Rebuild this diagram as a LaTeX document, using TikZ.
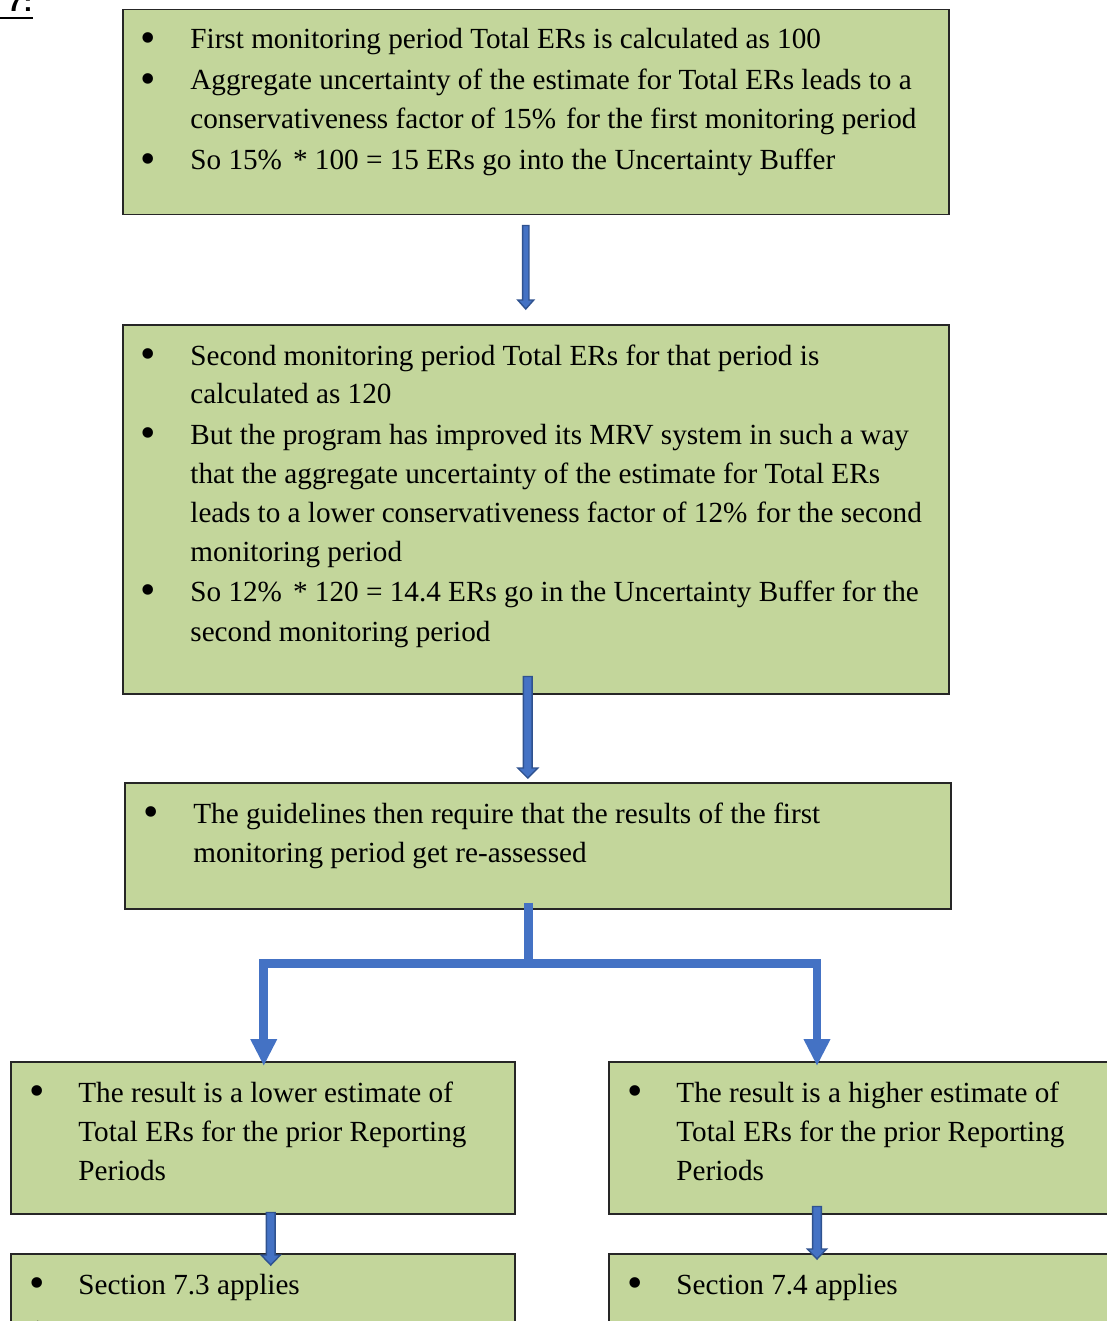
\documentclass[tikz,border=0pt]{standalone}
\usepackage{fontspec}
\setmainfont{Liberation Serif}
\newfontfamily\hdfont{Liberation Sans}
\usetikzlibrary{calc,arrows.meta}
\definecolor{boxgreen}{HTML}{C3D69B}
\definecolor{arrowfill}{HTML}{4472C4}
\definecolor{arrowline}{HTML}{2F528F}
\newcommand{\bkarrow}[5]{%
  \draw[barrow] let \p1=(#1), \p2=(#2) in
    (\x1-#3,\y1) -- (\x1+#3,\y1) -- (\x1+#3,\y2+#5) -- (\x1+#4,\y2+#5)
    -- (\x1,\y2) -- (\x1-#4,\y2+#5) -- (\x1-#3,\y2+#5) -- cycle;}
\begin{document}
\begin{tikzpicture}[x=0.5pt,y=-0.5pt,
  gbox/.style={draw=black!85, line width=0.75pt, fill=boxgreen, rectangle, anchor=north west, inner sep=0pt},
  txt/.style={anchor=base west, inner sep=0pt, yshift=-0.5pt, font=\fontsize{14.6}{16}\selectfont},
  bul/.style={anchor=base, inner sep=0pt, yshift=-2.1pt, font=\fontsize{22}{24}\selectfont},
  barrow/.style={draw=arrowline, fill=arrowfill, line width=0.7pt, line join=miter},
  tree/.style={draw=arrowfill, line width=4.3pt, line join=miter, -{Triangle[width=12.5pt,length=13.5pt]}}]
\useasboundingbox (0,0) rectangle (1107,1321);
\clip (0,0) rectangle (1107,1321);

% heading fragment
\node[anchor=base east, inner sep=0pt, font=\hdfont\bfseries\fontsize{14}{16}\selectfont] (hd) at (33,12) {7:};
\draw[line width=1.3pt] (0,18) -- (33,18);

% boxes
\node[gbox, minimum width=413pt, minimum height=102.5pt] (b1) at (122,9) {};
\node[gbox, minimum width=413pt, minimum height=184.5pt] (b2) at (122,324) {};
\node[gbox, minimum width=413pt, minimum height=63pt] (b3) at (124,782) {};
\node[gbox, minimum width=252pt, minimum height=76pt] (b4) at (10,1061) {};
\node[gbox, minimum width=260pt, minimum height=76pt] (b5) at (608,1061) {};
\node[gbox, minimum width=252pt, minimum height=50pt] (b6) at (10,1253) {};
\node[gbox, minimum width=260pt, minimum height=50pt] (b7) at (608,1253) {};

% box 1 text
\node[bul] (b1u1) at (148,48) {•};
\node[txt] (b1l1) at (190,48) {First monitoring period Total ERs is calculated as 100};
\node[bul] (b1u2) at (148,89) {•};
\node[txt] (b1l2) at (190,89) {Aggregate uncertainty of the estimate for Total ERs leads to a};
\node[txt] (b1l3) at (190,128) {conservativeness factor of 15\%\hspace{5pt}for the first monitoring period};
\node[bul] (b1u3) at (148,169) {•};
\node[txt] (b1l4) at (190,169) {So 15\%\hspace{5.5pt}* 100 = 15 ERs go into the Uncertainty Buffer};

% box 2 text
\node[bul] (b2u1) at (148,364) {•};
\node[txt] (b2l1) at (190,364) {Second monitoring period Total ERs for that period is};
\node[txt] (b2l2) at (190,402) {calculated as 120};
\node[bul] (b2u2) at (148,443) {•};
\node[txt] (b2l3) at (190,443) {But the program has improved its MRV system in such a way};
\node[txt] (b2l4) at (190,482) {that the aggregate uncertainty of the estimate for Total ERs};
\node[txt] (b2l5) at (190,521) {leads to a lower conservativeness factor of 12\%\hspace{4.5pt}for the second};
\node[txt] (b2l6) at (190,560) {monitoring period};
\node[bul] (b2u3) at (148,600) {•};
\node[txt] (b2l7) at (190,600) {So 12\%\hspace{5.5pt}* 120 = 14.4 ERs go in the Uncertainty Buffer for the};
\node[txt] (b2l8) at (190,640) {second monitoring period};

% box 3 text
\node[bul] (b3u1) at (151,822) {•};
\node[txt] (b3l1) at (193,822) {The guidelines then require that the results of the first};
\node[txt] (b3l2) at (193,861) {monitoring period get re-assessed};

% box 4 text
\node[bul] (b4u1) at (37,1101) {•};
\node[txt] (b4l1) at (78,1101) {The result is a lower estimate of};
\node[txt] (b4l2) at (78,1140) {Total ERs for the prior Reporting};
\node[txt] (b4l3) at (78,1179) {Periods};

% box 5 text
\node[bul] (b5u1) at (635,1101) {•};
\node[txt] (b5l1) at (676,1101) {The result is a higher estimate of};
\node[txt] (b5l2) at (676,1140) {Total ERs for the prior Reporting};
\node[txt] (b5l3) at (676,1179) {Periods};

% box 6 / 7 text
\node[bul] (b6u1) at (37,1293) {•};
\node[txt] (b6l1) at (78,1293) {Section 7.3 applies};
\node[txt] (b6l2) at (29,1339) {1};
\node[bul] (b7u1) at (635,1293) {•};
\node[txt] (b7l1) at (676,1293) {Section 7.4 applies};

% connector end points
\coordinate (a1s) at ($(b1.south)+(-10,10)$);
\coordinate (a1e) at ($(b2.north)+(-10,-15)$);
\coordinate (a2s) at ($(b2.south)+(-8,-18)$);
\coordinate (a2e) at ($(b3.north)+(-10,-4)$);
\coordinate (a4s) at ($(b4.south)+(8,-2)$);
\coordinate (a4e) at ($(b6.north)+(8,12)$);
\coordinate (a5s) at ($(b5.south west)+(209,-8)$);
\coordinate (a5e) at ($(b7.north west)+(209,6)$);
\coordinate (ts) at ($(b3.south)+(-9,-7)$);
\coordinate (tj) at ($(b3.south)+(-9,54)$);
\coordinate (tl) at ($(b4.north)+(1,5)$);
\coordinate (tr) at ($(b5.north west)+(209,5)$);

% block arrows
\bkarrow{a1s}{a1e}{1.6pt}{4pt}{4.5pt}
\bkarrow{a2s}{a2e}{2.2pt}{5pt}{5pt}
\bkarrow{a4s}{a4e}{2.2pt}{4.8pt}{5pt}
\bkarrow{a5s}{a5e}{2.2pt}{4.8pt}{5pt}

% tree connector
\draw[tree] (ts) -- (tj) -| (tl);
\draw[tree] (tj) -| (tr);
\end{tikzpicture}
\end{document}
